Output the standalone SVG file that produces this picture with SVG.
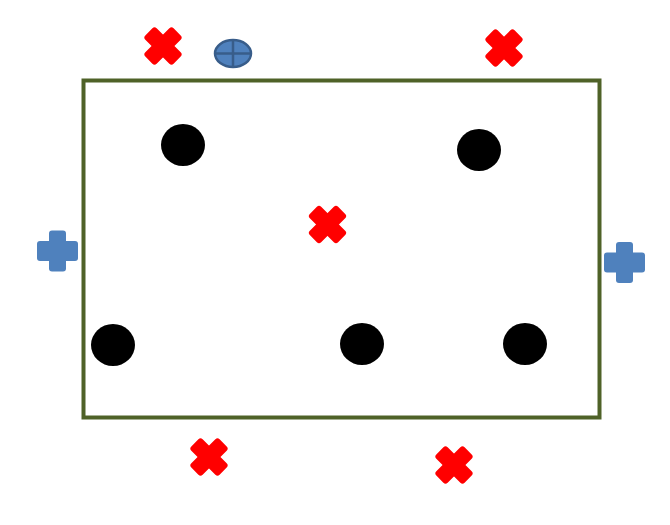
<svg xmlns="http://www.w3.org/2000/svg" width="670" height="525" viewBox="0 0 670 525">
<defs>
<style>
.ball{fill:#000}
.x{fill:#FF0000}
.plus{fill:#4F81BD}
</style>
<g id="xs"><rect x="-20" y="-8" width="40" height="16" rx="3"/><rect x="-8" y="-20" width="16" height="40" rx="3"/></g>
<g id="ps"><rect x="-20.5" y="-10" width="41" height="20" rx="3"/><rect x="-8.5" y="-20.5" width="17" height="41" rx="3"/></g>
</defs>
<rect width="670" height="525" fill="#fff"/>
<g id="field"><rect x="83.5" y="80.5" width="516" height="337" fill="none" stroke="#4F6228" stroke-width="4"/></g>
<g id="connectors"></g>
<g id="ball1"><ellipse class="ball" cx="183" cy="145" rx="22" ry="21"/></g>
<g id="ball2"><ellipse class="ball" cx="479" cy="150" rx="22" ry="21"/></g>
<g id="ball3"><ellipse class="ball" cx="113" cy="345" rx="22" ry="21"/></g>
<g id="ball4"><ellipse class="ball" cx="362" cy="344" rx="22" ry="21"/></g>
<g id="ball5"><ellipse class="ball" cx="525" cy="344" rx="22" ry="21"/></g>
<g id="x1"><use href="#xs" class="x" transform="translate(163,46) rotate(45)"/></g>
<g id="x2"><use href="#xs" class="x" transform="translate(504,48) rotate(45)"/></g>
<g id="x3"><use href="#xs" class="x" transform="translate(327.5,224.5) rotate(45)"/></g>
<g id="x4"><use href="#xs" class="x" transform="translate(209,457) rotate(45)"/></g>
<g id="x5"><use href="#xs" class="x" transform="translate(454,465) rotate(45)"/></g>
<g id="plus1"><use href="#ps" class="plus" transform="translate(57.5,251)"/></g>
<g id="plus2"><use href="#ps" class="plus" transform="translate(624.5,262.5)"/></g>
<g id="target"><ellipse cx="233" cy="53.5" rx="18" ry="13.5" fill="#4F81BD" stroke="#385D8A" stroke-width="2.5"/><path d="M215,53.5 H251 M233,40 V67" stroke="#385D8A" stroke-width="2.5"/></g>
</svg>
